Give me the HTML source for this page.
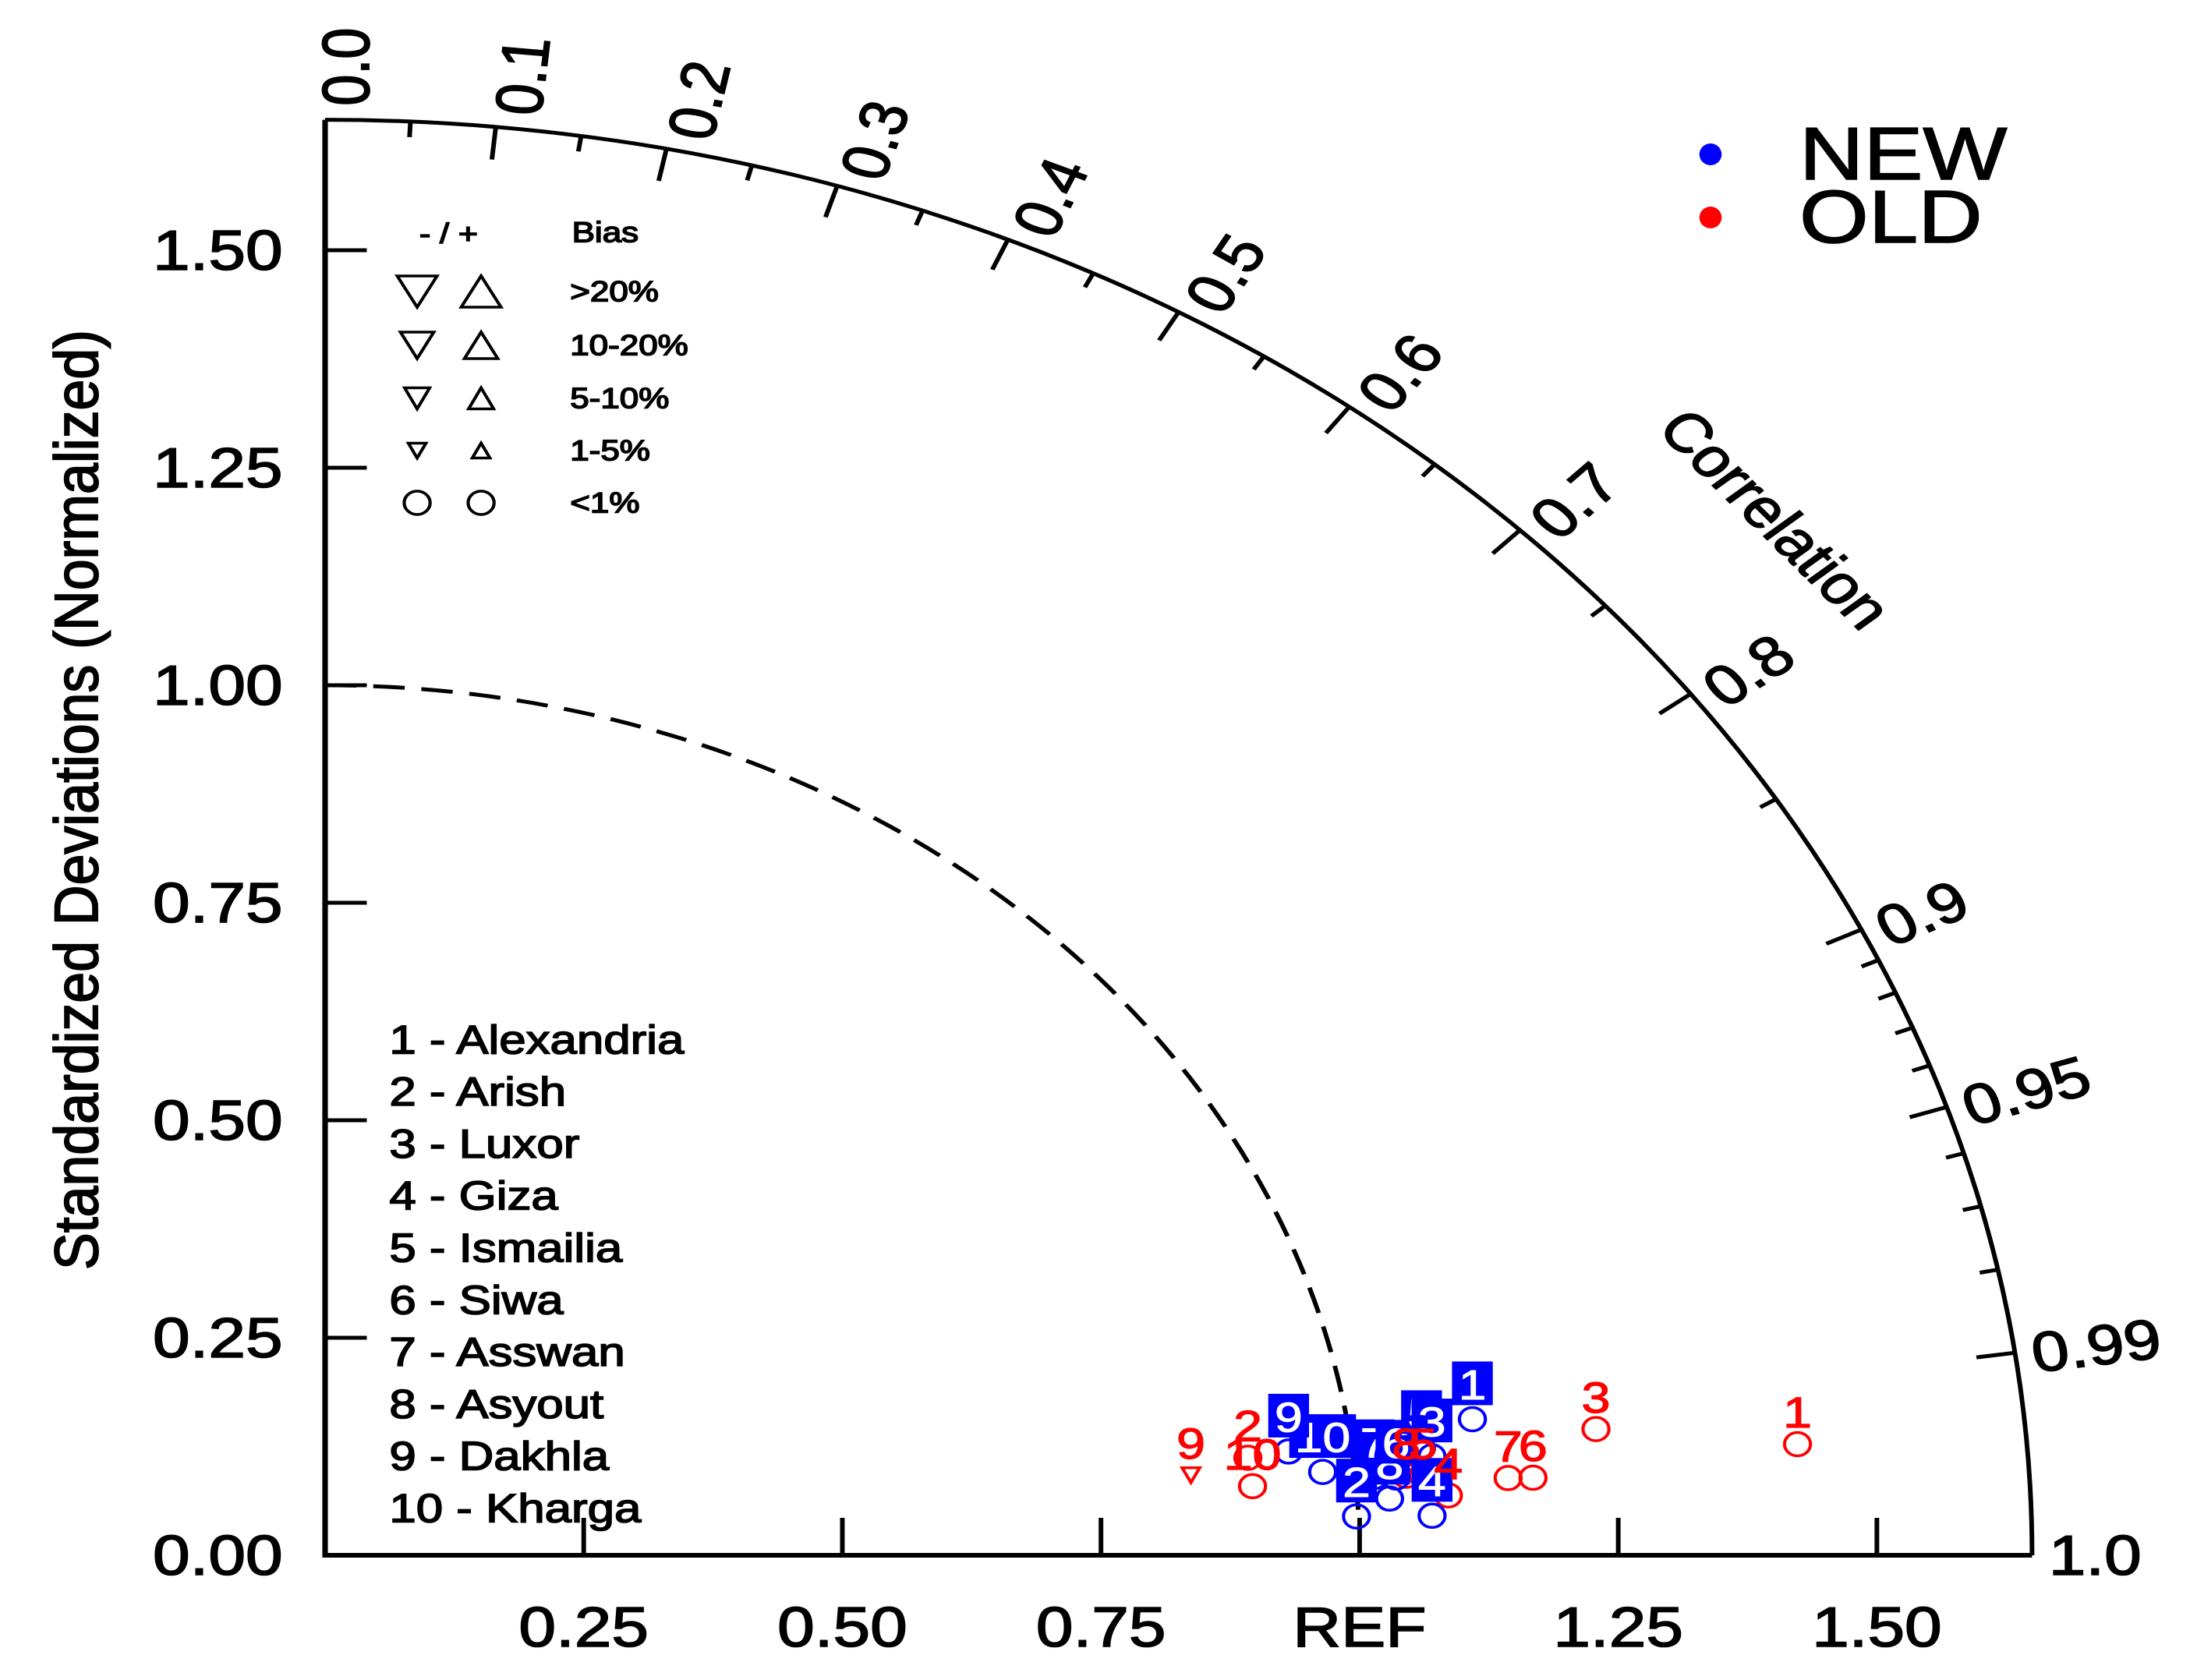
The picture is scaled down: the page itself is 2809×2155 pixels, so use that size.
<!DOCTYPE html>
<html><head><meta charset="utf-8"><style>
html,body{margin:0;padding:0;background:#fff;}
svg{display:block;font-family:"Liberation Sans",Arial,sans-serif;}
</style></head><body>
<svg id="chart" width="2809" height="2155" viewBox="0 0 2809 2155" xmlns="http://www.w3.org/2000/svg">
<rect width="2809" height="2155" fill="#fff"/>
<g id="plot" transform="scale(1.189,1)"></g>
</svg>
<script>
const stations = ["Alexandria","Arish","Luxor","Giza","Ismailia","Siwa","Asswan","Asyout","Dakhla","Kharga"];
const newStd  = [1.120,0.998,1.076,1.071,1.067,1.039,1.018,1.031,0.939,0.969];
const newCorr = [0.9902,0.9990,0.9944,0.9991,0.9933,0.9963,0.9961,0.9980,0.9919,0.9951];
const oldStd  = [1.429,0.899,1.237,1.088,1.065,1.171,1.147,1.049,0.842,0.900];
const oldCorr = [0.9960,0.9922,0.9931,0.9980,0.9963,0.9971,0.9970,0.9962,0.9940,0.9961];
const newBias = ["o","o","o","o","o","o","o","o","o","o"];
const oldBias = ["o","o","o","o","o","o","o","o","dn1","o"];
const stdTicks = [0.25,0.50,0.75,1.00,1.25,1.50];
const yTickLabels = ["0.25","0.50","0.75","1.00","1.25","1.50"];
const xTickLabels = ["0.25","0.50","0.75","REF","1.25","1.50"];
const corrMajor = [0.1,0.2,0.3,0.4,0.5,0.6,0.7,0.8,0.9,0.95,0.99];
const corrMinor = [0.05,0.15,0.25,0.35,0.45,0.55,0.65,0.75,0.85,0.91,0.92,0.93,0.94,0.96,0.97,0.98];
const corrLabels = ["0.0","0.1","0.2","0.3","0.4","0.5","0.6","0.7","0.8","0.9","0.95","0.99","1.0"];
const corrLabelVals = [0,0.1,0.2,0.3,0.4,0.5,0.6,0.7,0.8,0.9,0.95,0.99,1.0];

const NS="http://www.w3.org/2000/svg";
const g=document.getElementById('plot');
const OX=350.7, OY=1995, S=1116, RMAX=1.65;
function X(v){return OX+v*S;}
function Y(v){return OY-v*S;}
function pol(s,r){const t=Math.acos(r);return [OX+s*S*Math.cos(t), OY-s*S*Math.sin(t)];}
function el(tag,attrs,parent){const e=document.createElementNS(NS,tag);for(const k in attrs)e.setAttribute(k,attrs[k]);(parent||g).appendChild(e);return e;}
function txt(str,attrs,parent){const e=el('text',attrs,parent);e.textContent=str;return e;}
const BOLD={stroke:'#000','stroke-width':1.6};
function withB(a){return Object.assign({},a,BOLD);}

let e;
e=el('path',{d:`M${OX},${Y(RMAX)} L${OX},${OY} L${X(RMAX)},${OY}`,fill:'none',stroke:'#000','stroke-width':6});


e=el('path',{d:`M${OX},${Y(RMAX)} A${RMAX*S},${RMAX*S} 0 0 1 ${X(RMAX)},${OY}`,fill:'none',stroke:'#000','stroke-width':5});


{const t1=Math.PI/2,t2=3*Math.PI/180;
e=el('path',{d:`M${OX+S*Math.cos(t1)},${OY-S*Math.sin(t1)} A${S},${S} 0 0 1 ${OX+S*Math.cos(t2)},${OY-S*Math.sin(t2)}`,fill:'none',stroke:'#000','stroke-width':5,'stroke-dasharray':'34 18'});

}

stdTicks.forEach((v,i)=>{
  e=el('line',{x1:OX,y1:Y(v),x2:OX+45,y2:Y(v),stroke:'#000','stroke-width':5});
  
  
  e=txt(yTickLabels[i],withB({x:305,y:Y(v),'text-anchor':'end','dominant-baseline':'central','font-size':72,fill:'#000'}));
  
  
  e=el('line',{x1:X(v),y1:OY,x2:X(v),y2:OY-48,stroke:'#000','stroke-width':5});
  
  
  e=txt(xTickLabels[i],withB({x:X(v),y:2112,'text-anchor':'middle','font-size':72,fill:'#000'}));
  
  
});
e=txt("0.00",withB({x:305,y:OY,'text-anchor':'end','dominant-baseline':'central','font-size':72,fill:'#000'}));



function corrTick(r,len){const t=Math.acos(r);const R=RMAX*S;
  return el('line',{x1:OX+R*Math.cos(t),y1:OY-R*Math.sin(t),x2:OX+(R-len)*Math.cos(t),y2:OY-(R-len)*Math.sin(t),stroke:'#000','stroke-width':5});}
corrMajor.forEach(r=>{e=corrTick(r,42);
  
  });
corrMinor.forEach(r=>{e=corrTick(r,20);
  
  });
corrLabels.forEach((lab,i)=>{
  const t=Math.acos(corrLabelVals[i]);const R=RMAX*S+18;
  const dx=Math.cos(t),dy=-Math.sin(t);const px=-dy,py=dx;const sh=22*Math.sin(t);
  const x=OX+R*dx+sh*px,y=OY+R*dy+sh*py;const ang=-t*180/Math.PI;
  e=txt(lab,withB({x:x,y:y,'text-anchor':'start','dominant-baseline':'central','font-size':72,fill:'#000',transform:`rotate(${ang} ${x} ${y})`}));
  
  
});
e=txt("Correlation",withB({x:1915,y:666,'text-anchor':'middle','dominant-baseline':'central','font-size':70,fill:'#000',transform:'rotate(49.6 1915 666)'}));


e=txt("Standardized Deviations (Normalized)",withB({x:83,y:1026,'text-anchor':'middle','dominant-baseline':'central','font-size':66,textLength:1206,lengthAdjust:'spacingAndGlyphs',fill:'#000',transform:'rotate(-90 83 1026)'}));



function marker(kind,x,y,color){
  if(kind==="o") return el('ellipse',{cx:x,cy:y,rx:14,ry:15,fill:'none',stroke:color,'stroke-width':3.5});
  const up=kind.startsWith('up');
  const sz={'20':[43,40],'10':[36,34],'5':[27,27],'1':[19,19]}[kind.replace(/^(up|dn)/,'')];
  const w=sz[0],h=sz[1];
  const pts=up?`${x-w/2},${y+h/2} ${x+w/2},${y+h/2} ${x},${y-h/2}`:`${x-w/2},${y-h/2} ${x+w/2},${y-h/2} ${x},${y+h/2}`;
  return el('polygon',{points:pts,fill:'none',stroke:color,'stroke-width':3.5});
}

e=txt("- / +",withB({x:484,y:300,'text-anchor':'middle','dominant-baseline':'central','font-size':36,fill:'#000','stroke-width':0.8}));


e=txt("Bias",withB({x:617,y:298,'dominant-baseline':'central','font-size':37,fill:'#000','stroke-width':0.8}));


const biasRows=[["20",">20%",374],["10","10-20%",443],["5","5-10%",511],["1","1-5%",578],["o","<1%",645]];
biasRows.forEach(r=>{
  const k=r[0];
  e=marker(k==="o"?"o":"dn"+k,450,r[2],'#000');
  
  
  e=marker(k==="o"?"o":"up"+k,519,r[2],'#000');
  
  
  e=txt(r[1],withB({x:615,y:r[2],'dominant-baseline':'central','font-size':37,fill:'#000','stroke-width':0.8}));
  
  
});

stations.forEach((s,i)=>{
  e=txt((i+1)+" - "+s,withB({x:420,y:1334+i*66.8,'dominant-baseline':'central','font-size':52,fill:'#000','stroke-width':1.2}));
  
  
});

e=el('ellipse',{cx:2194/1.189,cy:198,rx:12,ry:14,fill:'#0000ff'});


e=txt("NEW",withB({x:2308/1.189,y:230,'font-size':96,fill:'#000','stroke-width':2}));


e=el('ellipse',{cx:2194/1.189,cy:279,rx:12,ry:14,fill:'#ff0000'});


e=txt("OLD",withB({x:2308/1.189,y:311,'font-size':96,fill:'#000','stroke-width':2}));



const newPts=newStd.map((s,i)=>pol(s,newCorr[i]));
const oldPts=oldStd.map((s,i)=>pol(s,oldCorr[i]));
oldPts.forEach((p,i)=>{e=marker(oldBias[i],p[0],p[1],'#ff0000');
  
  });
newPts.forEach((p,i)=>{e=marker(newBias[i],p[0],p[1],'#0000ff');
  
  });
for(let i=newPts.length-1;i>=0;i--){
  const p=newPts[i];
  const lab=String(i+1);const w=lab.length>1?72:44;const cy=p[1]-46;
  e=el('rect',{x:p[0]-w/2,y:cy-28,width:w,height:56,fill:'#0000ff'});
  
  
  e=txt(lab,{x:p[0],y:cy+2,'text-anchor':'middle','dominant-baseline':'central','font-size':54,fill:'#fff',stroke:'#fff','stroke-width':1});
  
  
}
oldPts.forEach((p,i)=>{
  e=txt(String(i+1),{x:p[0],y:p[1]-40,'text-anchor':'middle','dominant-baseline':'central','font-size':56,fill:'#ff0000',stroke:'#ff0000','stroke-width':1.2});
  
  
});
</script>
</body></html>
